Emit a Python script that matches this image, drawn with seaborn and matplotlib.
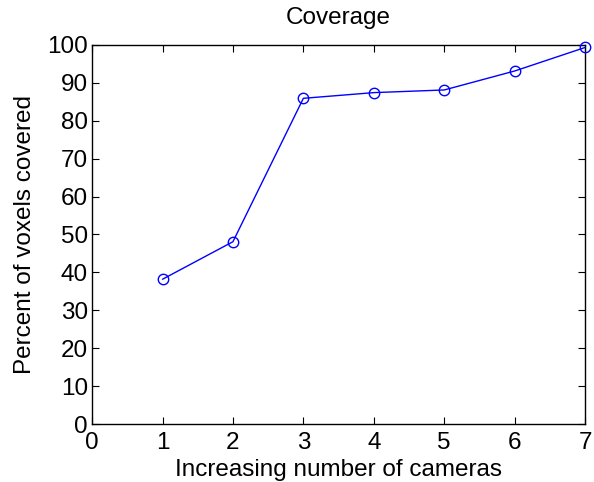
import matplotlib
matplotlib.use("Agg")
import matplotlib.pyplot as plt
import seaborn as sns
import pandas as pd

cameras = [1, 2, 3, 4, 5, 6, 7]
coverage = [38.2, 48.1, 85.9, 87.4, 88.1, 93.1, 99.3]
x_ticks = [0, 1, 2, 3, 4, 5, 6, 7]
y_ticks = [0, 10, 20, 30, 40, 50, 60, 70, 80, 90, 100]

sns.set_style("white")
plt.rcParams["font.family"] = ["Liberation Sans", "DejaVu Sans"]
plt.rcParams["text.color"] = "black"
plt.rcParams["axes.labelcolor"] = "black"
plt.rcParams["xtick.color"] = "black"
plt.rcParams["ytick.color"] = "black"

df = pd.DataFrame({"cameras": cameras, "coverage": coverage})

fig = plt.figure(figsize=(5.94, 4.82), dpi=100)
ax = fig.add_axes([0.155, 0.120, 0.830, 0.787])

sns.lineplot(data=df, x="cameras", y="coverage", ax=ax, color="#0000ff",
             linewidth=1.0, marker="o", markersize=7.5, markerfacecolor="none",
             markeredgecolor="#0000ff", markeredgewidth=1.0)
for line in ax.lines:
    line.set_clip_on(False)
    line.set_zorder(5)

ax.set_xlim(0, 7)
ax.set_ylim(0, 100)
ax.set_xticks(x_ticks)
ax.set_yticks(y_ticks)
ax.tick_params(direction="in", length=5, width=0.8, labelsize=17.5,
               top=True, right=True, bottom=True, left=True,
               color="black", labelcolor="black")
ax.tick_params(axis="x", pad=6)
ax.tick_params(axis="y", pad=3)
for s in ax.spines.values():
    s.set_color("black")
    s.set_linewidth(1.0)
    s.set_visible(True)

ax.set_title("Coverage", fontsize=17.5, pad=15, color="black")
ax.set_xlabel("Increasing number of cameras", fontsize=17.5, labelpad=3, color="black")
ax.set_ylabel("Percent of voxels covered", fontsize=17.5, labelpad=8, color="black")

fig.savefig("out.png", dpi=100)
